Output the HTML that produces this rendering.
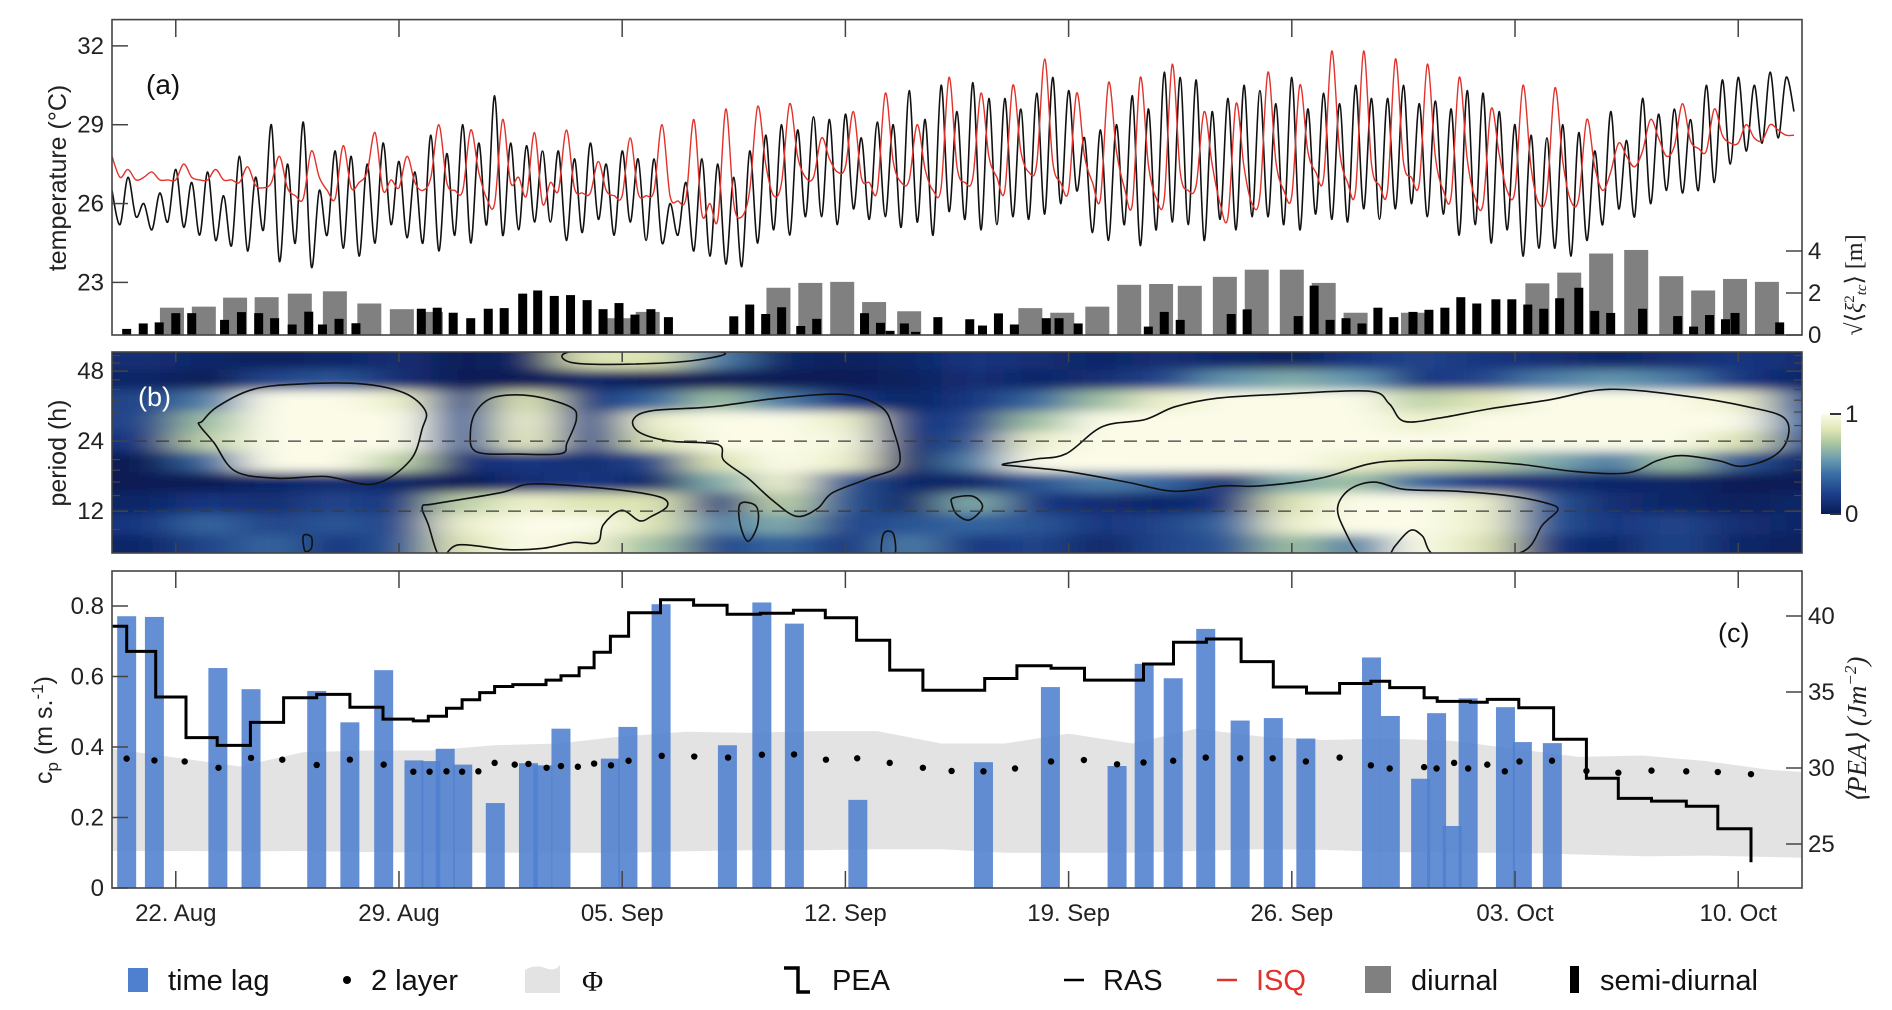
<!DOCTYPE html>
<html><head><meta charset="utf-8">
<style>
html,body{margin:0;padding:0;background:#fff;}
svg{display:block;font-family:"Liberation Sans",sans-serif;}
</style></head>
<body>
<svg id="chart" width="1892" height="1010" viewBox="0 0 1892 1010" xmlns="http://www.w3.org/2000/svg">
<defs>
<clipPath id="clipA"><rect x="112" y="20" width="1690" height="315"/></clipPath>
<clipPath id="clipB"><rect x="112" y="352" width="1690" height="201"/></clipPath>
<clipPath id="clipC"><rect x="112" y="571" width="1690" height="317"/></clipPath>
<filter id="blur" x="-10%" y="-30%" width="120%" height="160%"><feGaussianBlur stdDeviation="24 5"/></filter>
<linearGradient id="cbar" x1="0" y1="1" x2="0" y2="0">
<stop offset="0" stop-color="#081b55"/><stop offset="0.2" stop-color="#1d3f8a"/><stop offset="0.4" stop-color="#3b6ea4"/><stop offset="0.55" stop-color="#6c9db0"/><stop offset="0.7" stop-color="#a8c5a0"/><stop offset="0.85" stop-color="#e2e7b6"/><stop offset="1" stop-color="#fbfbe8"/>
</linearGradient>
</defs>
<g id="layer"></g>
</svg>
<script>
// ---------- DATA ----------
const tickDays = [2, 9, 16, 23, 30, 37, 44, 51];
const tickLabels = ["22. Aug", "29. Aug", "05. Sep", "12. Sep", "19. Sep", "26. Sep", "03. Oct", "10. Oct"];
const tempTicks = [23, 26, 29, 32];
const xiTicks = [0, 2, 4];
const periodTicks = [12, 24, 48];
const cpTicks = [0, 0.2, 0.4, 0.6, 0.8];
const cpTickLabels = ["0", "0.2", "0.4", "0.6", "0.8"];
const peaTicks = [25, 30, 35, 40];

const rasTemp = [
26.5,25.2,27.0,25.5, 26.0,25.0,26.4,25.3, 27.3,25.1,26.8,24.8, 27.2,24.6,26.3,24.4, 27.8,24.2,27.0,25.0,
29.0,23.8,27.5,24.5, 29.1,23.6,26.5,24.8, 28.0,24.3,27.8,24.0, 27.5,24.5,28.3,25.2, 27.6,24.7,27.2,24.5,
28.6,24.2,27.9,24.8, 29.0,24.5,28.3,25.2, 30.1,24.8,28.3,25.0, 28.2,25.3,28.0,25.3, 28.0,24.6,27.7,24.9,
28.3,25.4,27.5,24.8, 28.0,25.3,27.7,24.6, 27.7,24.5,26.0,24.8, 26.8,24.2,27.7,24.0, 27.5,23.7,27.0,23.6,
28.0,24.5,28.6,25.0, 29.0,24.8,28.8,25.5, 29.3,25.5,29.2,25.2, 29.4,25.8,28.5,25.4, 29.1,25.5,29.0,25.1,
30.3,25.3,29.2,24.8, 30.5,25.7,29.5,25.4, 30.6,25.0,30.0,25.2, 30.0,25.5,29.6,25.4, 30.2,25.6,30.8,26.0,
30.3,26.5,28.5,24.9, 28.8,24.6,29.0,25.2, 30.1,24.4,29.6,25.0, 31.0,25.3,30.8,25.2, 30.7,24.6,29.5,25.4,
30.0,25.0,30.5,25.5, 30.3,25.5,29.8,25.2, 30.8,25.0,29.6,25.6, 30.2,25.4,29.8,25.3, 30.5,25.8,30.0,25.4,
30.0,25.8,30.5,26.0, 29.8,25.5,29.9,25.6, 29.6,24.8,30.3,25.2, 30.2,24.5,29.5,25.0, 29.0,24.0,28.6,24.3,
28.5,24.3,29.0,24.0, 28.7,24.6,28.0,25.2, 29.5,25.8,28.4,25.5, 30.0,26.0,29.4,26.5, 29.6,26.4,29.2,26.5,
30.5,26.8,30.7,27.5, 30.8,28.0,30.5,28.3, 31.0,28.5,30.8,29.5
];
const isqTemp = [
27.8,27.0,27.3,26.9, 27.0,27.2,26.9,26.9, 26.9,27.5,27.0,26.9, 26.9,27.3,26.9,26.9, 26.8,27.4,26.7,26.6,
26.8,27.8,26.6,26.3, 26.2,28.0,27.0,26.5, 26.2,28.2,26.6,26.8, 27.2,28.7,26.5,26.9, 26.6,27.8,26.8,26.5,
27.0,29.0,26.8,26.5, 26.5,28.8,27.2,26.2, 26.0,29.2,26.8,27.0, 26.3,28.7,26.0,26.8, 26.5,28.8,26.6,26.4,
26.4,27.6,26.5,26.3, 26.3,28.5,26.4,26.3, 26.5,29.0,26.3,26.1, 26.2,29.2,25.6,26.0, 25.4,29.6,26.0,25.5,
26.5,29.7,27.5,26.3, 26.8,29.8,27.8,27.0, 27.0,28.5,27.7,27.2, 27.4,29.5,27.0,26.8, 26.5,30.2,27.6,26.8,
26.9,29.0,27.3,26.5, 26.6,30.8,27.4,26.8, 27.0,30.2,27.8,27.0, 26.5,30.5,28.0,27.2, 27.5,31.5,27.6,26.8,
26.5,30.2,27.8,26.8, 26.2,30.6,28.0,26.6, 26.0,30.8,27.5,26.2, 26.2,31.3,27.2,26.5, 26.7,29.5,27.5,26.0,
25.5,29.8,27.4,26.0, 26.3,31.0,27.6,26.5, 26.3,30.5,28.0,27.2, 27.0,31.8,28.0,26.8, 26.5,31.8,27.5,26.7,
26.5,31.5,27.6,27.0, 26.8,31.3,27.8,26.5, 26.3,30.8,27.7,26.2, 26.0,29.6,27.9,26.5, 26.5,30.5,27.4,26.0,
26.4,30.4,27.6,26.1, 26.2,29.2,27.4,26.5, 27.2,28.3,27.8,27.4, 28.0,29.2,28.5,27.8, 28.2,29.8,28.4,28.1,
28.0,29.6,28.6,28.3, 28.3,29.0,28.5,28.4, 29.0,28.8,28.6,28.6
];
const diurnalDay = [1.88,2.88,3.86,4.85,5.89,6.99,8.07,9.09,10.0,15.9,16.8,20.9,21.9,22.9,23.9,25.0,28.8,29.8,30.9,31.9,32.9,33.8,34.9,35.9,37.0,38.0,39.0,40.8,44.7,45.7,46.7,47.8,48.9,49.9,50.9,51.9];
const diurnalVal = [1.3,1.35,1.78,1.8,1.97,2.08,1.5,1.23,1.1,0.8,1.1,2.25,2.48,2.53,1.57,1.13,1.28,1.06,1.35,2.39,2.43,2.34,2.77,3.11,3.11,2.48,1.06,1.06,2.46,2.97,3.88,4.05,2.8,2.12,2.67,2.53];
const semiDay = [0.46,0.98,1.48,2.0,2.5,3.53,4.06,4.6,5.1,5.65,6.17,6.6,7.12,7.65,9.7,10.2,10.7,11.25,11.8,12.3,12.88,13.35,13.87,14.38,14.9,15.4,15.9,16.4,16.9,17.45,19.5,20.0,20.5,21.0,21.6,22.1,23.6,24.1,24.4,24.85,25.2,25.9,26.9,27.3,27.8,28.3,29.3,29.7,30.3,32.5,33.0,33.5,35.1,35.6,37.2,37.7,38.2,38.7,39.2,39.7,40.2,40.8,41.3,41.8,42.3,42.8,43.4,43.9,44.4,44.9,45.4,46.0,46.5,47.0,48.0,49.1,49.6,50.1,50.6,50.9,52.3];
const semiVal = [0.29,0.55,0.6,1.04,1.04,0.72,1.09,1.04,0.8,0.5,1.11,0.5,0.77,0.56,1.25,1.3,1.06,0.8,1.25,1.28,1.97,2.12,1.86,1.9,1.66,1.23,1.52,0.97,1.23,0.85,0.89,1.45,1.0,1.32,0.43,0.77,1.04,0.58,0.2,0.55,0.15,0.85,0.75,0.45,1.03,0.5,0.8,0.8,0.55,0.4,1.1,0.72,1.0,1.22,0.9,2.35,0.72,0.8,0.55,1.3,0.85,1.1,1.2,1.3,1.8,1.5,1.7,1.7,1.45,1.25,1.75,2.25,1.15,1.05,1.25,0.9,0.4,0.95,0.75,1.05,0.6];

const cohDays = [1,3,5,7,9,11,13,15,17,19,21,23,25,27,29,31,33,35,37,39,41,43,45,47,49,51,53];
const cohPeriods = [54,44,36,29,24,19.5,16,13,10.5,8.6];
const cohRow0 = [0.35,0.3,0.25,0.3,0.35,0.2,0.3,0.85,0.85,0.6,0.3,0.25,0.3,0.4,0.35,0.3,0.35,0.3,0.25,0.4,0.45,0.4,0.35,0.3,0.35,0.4,0.35];
const cohRow1 = [0.3,0.2,0.45,0.5,0.35,0.1,0.2,0.3,0.2,0.15,0.2,0.15,0.25,0.35,0.3,0.35,0.45,0.65,0.7,0.65,0.4,0.45,0.6,0.65,0.6,0.4,0.3];
const cohRow2 = [0.45,0.6,0.95,0.97,0.9,0.45,0.85,0.4,0.55,0.75,0.6,0.4,0.3,0.4,0.55,0.75,0.9,0.97,0.97,0.95,0.8,0.85,0.95,0.97,0.95,0.9,0.5];
const cohRow3 = [0.45,0.75,1,1,0.95,0.5,0.9,0.45,0.9,0.95,0.95,0.9,0.4,0.45,0.75,0.95,1,1,1,0.97,0.9,0.95,1,1,0.98,0.95,0.55];
const cohRow4 = [0.4,0.8,1,1,0.97,0.5,0.88,0.45,0.85,0.95,0.97,0.93,0.35,0.5,0.9,1,1,1,1,0.98,0.95,0.97,0.98,0.98,0.95,0.85,0.5];
const cohRow5 = [0.2,0.55,0.95,0.95,0.8,0.35,0.4,0.35,0.45,0.85,0.95,0.9,0.3,0.6,0.95,0.98,0.97,0.95,0.95,0.9,0.85,0.8,0.7,0.6,0.75,0.5,0.3];
const cohRow6 = [0.15,0.2,0.3,0.35,0.3,0.2,0.35,0.4,0.3,0.7,0.9,0.5,0.3,0.3,0.5,0.6,0.55,0.35,0.7,0.75,0.55,0.4,0.35,0.3,0.3,0.2,0.15];
const cohRow7 = [0.3,0.4,0.35,0.45,0.4,0.8,0.9,0.85,0.85,0.4,0.8,0.5,0.3,0.7,0.4,0.35,0.3,0.4,0.85,0.95,0.95,0.9,0.5,0.35,0.3,0.25,0.3];
const cohRow8 = [0.4,0.55,0.45,0.5,0.45,0.9,0.97,0.95,0.85,0.6,0.7,0.45,0.5,0.55,0.5,0.4,0.45,0.55,0.9,0.95,1,0.9,0.5,0.4,0.45,0.35,0.3];
const cohRow9 = [0.3,0.45,0.55,0.4,0.5,0.85,0.95,0.9,0.75,0.45,0.55,0.4,0.6,0.4,0.45,0.3,0.45,0.5,0.75,0.6,0.95,0.85,0.4,0.3,0.45,0.3,0.25];
const cohRows = [cohRow0,cohRow1,cohRow2,cohRow3,cohRow4,cohRow5,cohRow6,cohRow7,cohRow8,cohRow9];
const contourA = [[2.83,29.2],[3.3,33.7],[4.43,40.1],[5.95,42.3],[7.84,42.3],[9.16,38.7],[9.83,32.4],[9.73,27.2],[9.35,19.8],[8.22,15.7],[6.7,16.9],[5.19,16.6],[3.87,17.8],[3.2,23.6],[2.73,28.2]];
const contourB = [[11.43,32.4],[12.0,37.1],[13.14,37.6],[14.37,33.7],[14.56,29.7],[14.27,23.6],[14.08,21.2],[12.76,21.1],[11.43,21.6],[11.24,26.2]];
const contourC = [[16.35,29.7],[16.92,32.4],[18.81,33.7],[20.89,36.7],[22.97,38.1],[24.11,33.7],[24.49,27.2],[24.68,19.1],[23.73,16.6],[22.6,14.4],[22.12,12.3],[21.46,11.4],[20.7,13.4],[19.95,16.6],[19.19,19.8],[19.0,23.2],[17.49,24.0],[16.54,26.2]];
const contourD = [[14.18,57.1],[15.41,59.5],[19.1,58],[18.24,53.3],[16.16,51.4],[14.46,52.1]];
const contourE = [[9.73,12.5],[10.11,12.9],[12.19,14.4],[13.14,15.7],[15.03,15.2],[16.54,14.4],[17.3,13.6],[17.4,12.5],[16.92,11.4],[16.54,10.9],[15.98,12.1],[15.41,10.5],[15.22,8.8],[14.46,8.8],[13.51,8.3],[12.38,8.2],[10.87,8.6],[10.3,7.6],[9.92,10.5]];
const contourF = [[27.94,19.1],[28.98,20.1],[29.93,21.2],[31.06,27.7],[32.39,29.7],[33.33,33.7],[34.66,36.7],[36.55,38.1],[39.39,39.4],[40.05,34.8],[40.52,29.2],[41.66,30.2],[43.17,33.0],[45.06,36.1],[46.95,40.1],[49.41,37.4],[51.3,33.7],[52.44,30.2],[52.54,24.4],[52.07,20.5],[51.12,18.7],[50.36,19.8],[49.23,20.8],[48.47,19.8],[47.52,17.5],[45.82,17.8],[44.12,19.1],[42.23,19.8],[40.52,19.8],[39.39,19.1],[37.88,16.6],[35.98,15.4],[34.85,15.4],[33.33,14.6],[31.82,16.0],[29.93,17.8],[28.41,18.7]];
const contourG = [[39.2,7.6],[38.63,10.1],[38.44,12.5],[38.82,14.9],[39.58,16.0],[40.52,14.9],[42.23,14.6],[43.93,13.9],[45.06,12.9],[45.34,12.1],[44.87,10.5],[44.12,7.9],[41.66,7.6],[41.09,9.4],[40.71,9.9],[40.24,8.5],[39.96,7.6]];
const contourH = [[19.7,12.9],[20.2,12.6],[20.25,10.5],[19.95,8.9],[19.7,10.5]];
const contourI = [[26.4,13.7],[27.0,13.9],[27.3,12.5],[26.9,11.0],[26.5,11.6],[26.33,13]];
const contourJ = [[6.0,9.4],[6.25,9.3],[6.25,8.3],[6.05,8.1]];
const contourK = [[24.2,9.6],[24.5,9.6],[24.55,7.8],[24.15,7.8]];
const contours = [contourA,contourB,contourC,contourD,contourE,contourF,contourG,contourH,contourI,contourJ,contourK];

const lagDay = [0.46,1.33,3.32,4.36,6.42,7.46,8.52,9.47,10.0,10.45,11.0,12.02,13.06,13.51,14.08,15.63,16.18,17.22,19.3,20.38,21.4,23.39,27.33,29.43,31.52,32.37,33.28,34.3,35.38,36.42,37.44,39.5,40.09,41.04,41.54,42.03,42.53,43.7,44.23,45.17];
const lagVal = [0.771,0.769,0.624,0.564,0.559,0.47,0.618,0.362,0.36,0.395,0.35,0.241,0.354,0.348,0.452,0.367,0.457,0.805,0.405,0.81,0.75,0.25,0.357,0.57,0.346,0.636,0.595,0.735,0.475,0.482,0.424,0.654,0.488,0.31,0.496,0.176,0.538,0.513,0.414,0.411];
const layerDay = [0.46,1.33,2.28,3.34,4.36,5.34,6.42,7.46,8.52,9.45,9.96,10.49,10.98,11.49,12.0,12.63,13.06,13.63,14.08,14.61,15.12,15.65,16.2,17.24,18.26,19.32,20.38,21.39,22.39,23.37,24.39,25.43,26.33,27.33,28.32,29.45,30.48,31.52,32.35,33.28,34.3,35.38,36.4,37.44,38.5,39.48,40.07,41.15,41.54,42.09,42.53,43.13,43.68,44.14,45.16,46.24,47.24,48.28,49.37,50.36,51.4];
const layerVal = [0.367,0.362,0.359,0.341,0.369,0.364,0.349,0.364,0.35,0.33,0.33,0.331,0.33,0.331,0.355,0.35,0.352,0.341,0.346,0.344,0.353,0.348,0.361,0.375,0.373,0.37,0.378,0.379,0.364,0.368,0.355,0.341,0.332,0.331,0.339,0.359,0.363,0.351,0.356,0.361,0.37,0.368,0.368,0.359,0.37,0.348,0.339,0.343,0.339,0.355,0.339,0.35,0.331,0.359,0.361,0.332,0.327,0.333,0.331,0.329,0.323];
const phiDay = [0,2,4,6,8,10,12,14,16,18,20,22,24,26,28,30,32,34,36,38,40,42,44,46,48,50,52,53];
const phiHigh = [0.395,0.37,0.345,0.385,0.39,0.39,0.405,0.41,0.43,0.443,0.44,0.445,0.445,0.41,0.41,0.438,0.41,0.452,0.43,0.42,0.424,0.418,0.395,0.372,0.376,0.36,0.335,0.329];
const phiLow = [0.105,0.105,0.104,0.105,0.102,0.1,0.1,0.1,0.1,0.104,0.107,0.107,0.11,0.11,0.1,0.1,0.1,0.105,0.11,0.108,0.102,0.1,0.1,0.095,0.09,0.092,0.088,0.086];
const peaDay = [0,0.46,1.37,2.32,3.3,4.34,5.38,6.42,7.46,8.5,9.45,9.92,10.49,10.98,11.53,12.0,12.57,13.61,14.08,14.65,15.12,15.63,16.2,17.2,18.24,19.29,20.33,21.37,22.37,23.35,24.39,25.43,27.37,28.38,29.45,30.5,32.35,33.29,34.32,35.41,36.42,37.46,38.5,39.48,40.07,41.15,41.56,42.6,43.13,44.12,45.21,46.24,47.24,48.28,49.37,50.36];
const peaVal = [39.33,37.67,34.67,32.0,31.49,33.0,34.62,34.84,34.0,33.22,33.1,33.4,33.93,34.49,34.96,35.36,35.49,35.78,36.07,36.6,37.62,38.67,40.22,41.07,40.71,40.11,40.18,40.38,39.89,38.4,36.44,35.11,35.89,36.73,36.56,35.78,36.84,38.27,38.49,37.0,35.33,34.93,35.56,35.71,35.29,34.62,34.38,34.33,34.51,33.96,31.89,29.33,28.0,27.82,27.49,26.0];
const peaEndDay = 51.4;
const peaEndVal = 23.8;

// ---------- SCALES ----------
const L = 112, R = 1802, NDAYS = 53;
const X = d => L + d * (R - L) / NDAYS;
const yT = v => 19.6 + (33 - v) * 26.28;
const yXi = v => 335 - v * 21;
const yP = p => 352 + 70 * Math.log2(58 / p);
const yC = v => 888 - v * 352.5;
const yPEA = v => 616 + (40 - v) * 15.2;

const NS = "http://www.w3.org/2000/svg";
const root = document.getElementById("layer");
function mk(tag, attrs, parent) {
  const el = document.createElementNS(NS, tag);
  for (const k in attrs) el.setAttribute(k, attrs[k]);
  (parent || root).appendChild(el);
  return el;
}
function smoothPath(pts, closed) {
  const n = pts.length;
  let d = `M${pts[0][0].toFixed(1)},${pts[0][1].toFixed(1)}`;
  const last = closed ? n : n - 1;
  for (let i = 0; i < last; i++) {
    const g = j => closed ? pts[(j + n) % n] : pts[Math.max(0, Math.min(n - 1, j))];
    const p0 = g(i - 1), p1 = g(i), p2 = g(i + 1), p3 = g(i + 2);
    const c1 = [p1[0] + (p2[0] - p0[0]) / 6, p1[1] + (p2[1] - p0[1]) / 6];
    const c2 = [p2[0] - (p3[0] - p1[0]) / 6, p2[1] - (p3[1] - p1[1]) / 6];
    d += ` C${c1[0].toFixed(1)},${c1[1].toFixed(1)} ${c2[0].toFixed(1)},${c2[1].toFixed(1)} ${p2[0].toFixed(1)},${p2[1].toFixed(1)}`;
  }
  return d + (closed ? "Z" : "");
}
function txt(s, x, y, attrs) {
  const t = mk("text", Object.assign({ x: x, y: y, "font-size": 24, fill: "#222" }, attrs || {}));
  t.textContent = s;
  return t;
}
const stops = [[0,[8,27,85]],[0.2,[25,55,130]],[0.4,[55,105,160]],[0.55,[108,157,176]],[0.7,[168,197,160]],[0.85,[226,231,182]],[1,[251,251,232]]];
function cmap(v) {
  v = Math.max(0, Math.min(1, (v - 0.2) / 0.75));
  v = Math.pow(v, 1.25);
  for (let i = 1; i < stops.length; i++) {
    if (v <= stops[i][0]) {
      const a = stops[i-1], b = stops[i], f = (v - a[0]) / (b[0] - a[0]);
      const c = a[1].map((x, k) => Math.round(x + (b[1][k] - x) * f));
      return `rgb(${c[0]},${c[1]},${c[2]})`;
    }
  }
  return "rgb(251,251,232)";
}

// ---------- PANEL A ----------
const gA = mk("g", {});


const gAc = mk("g", { "clip-path": "url(#clipA)" }, gA);
diurnalDay.forEach((d, i) => {
  const r = mk("rect", { x: X(d) - 12, y: yXi(diurnalVal[i]), width: 24, height: yXi(0) - yXi(diurnalVal[i]), fill: "#808080" }, gAc);
  
  
});
semiDay.forEach((d, i) => {
  const r = mk("rect", { x: X(d) - 4.5, y: yXi(semiVal[i]), width: 9, height: yXi(0) - yXi(semiVal[i]), fill: "#000" }, gAc);
  
  
});
const rasLine = mk("path", { d: smoothPath(rasTemp.map((v, i) => [X(i * 0.25), yT(v)]), false), fill: "none", stroke: "#111", "stroke-width": 1.6 }, gAc);


const isqLine = mk("path", { d: smoothPath(isqTemp.map((v, i) => [X(i * 0.25), yT(v)]), false), fill: "none", stroke: "#e3322b", "stroke-width": 1.4 }, gAc);


const frA = mk("rect", { x: L, y: 19.6, width: R - L, height: 335 - 19.6, fill: "none", stroke: "#444", "stroke-width": 1.6 }, gA);


tempTicks.forEach(v => {
  mk("line", { x1: L, x2: L + 16, y1: yT(v), y2: yT(v), stroke: "#444", "stroke-width": 1.5 }, gA);
  const t = txt(String(v), L - 8, yT(v) + 8, { "text-anchor": "end" });
  
  
});
xiTicks.forEach(v => {
  mk("line", { x1: R - 16, x2: R, y1: yXi(v), y2: yXi(v), stroke: "#444", "stroke-width": 1.5 }, gA);
  const t = txt(String(v), R + 6, yXi(v) + 8, {});
  
  
});
tickDays.forEach(d => mk("line", { x1: X(d), x2: X(d), y1: 19.6, y2: 37, stroke: "#444", "stroke-width": 1.5 }, gA));

// ---------- PANEL B ----------
const gB = mk("g", {});


const gBc = mk("g", { "clip-path": "url(#clipB)" }, gB);
mk("rect", { x: L, y: 352, width: R - L, height: 201, fill: "#1d3f8a" }, gBc);
const gBl = mk("g", { filter: "url(#blur)" }, gBc);
const rowY = cohPeriods.map(p => yP(p));
cohRows.forEach((row, ri) => {
  const top = ri === 0 ? 320 : (rowY[ri - 1] + rowY[ri]) / 2;
  const bot = ri === cohRows.length - 1 ? 590 : (rowY[ri] + rowY[ri + 1]) / 2;
  row.forEach((v, ci) => {
    const x0 = ci === 0 ? L - 60 : X(cohDays[ci] - 1);
    const x1 = ci === row.length - 1 ? R + 60 : X(cohDays[ci] + 1);
    const c = mk("rect", { x: x0, y: top, width: x1 - x0 + 0.5, height: bot - top + 0.5, fill: cmap(v) }, gBl);
    
    
  });
});
contours.forEach(ct => {
  const p = mk("path", { d: smoothPath(ct.map(q => [X(q[0]), yP(q[1])]), true), fill: "none", stroke: "#111", "stroke-width": 1.6 }, gBc);
  
  
});
[24, 12].forEach(p => {
  const l = mk("line", { x1: L, x2: R, y1: yP(p), y2: yP(p), stroke: "#3a3a3a", "stroke-width": 1.3, "stroke-dasharray": "13 9" }, gBc);
  
  
});
const frB = mk("rect", { x: L, y: 352, width: R - L, height: 201, fill: "none", stroke: "#444", "stroke-width": 1.6 }, gB);


periodTicks.forEach(p => {
  mk("line", { x1: L, x2: L + 16, y1: yP(p), y2: yP(p), stroke: "#444", "stroke-width": 1.5 }, gB);
  mk("line", { x1: R - 16, x2: R, y1: yP(p), y2: yP(p), stroke: "#444", "stroke-width": 1.5 }, gB);
  const t = txt(String(p), L - 8, yP(p) + 8, { "text-anchor": "end" });
  
  
});
[10, 14, 16, 18, 20, 28, 32, 36, 40, 44, 52, 56].forEach(p => {
  mk("line", { x1: L, x2: L + 8, y1: yP(p), y2: yP(p), stroke: "#444", "stroke-width": 1.2 }, gB);
  mk("line", { x1: R - 8, x2: R, y1: yP(p), y2: yP(p), stroke: "#444", "stroke-width": 1.2 }, gB);
});
tickDays.forEach(d => {
  mk("line", { x1: X(d), x2: X(d), y1: 352, y2: 362, stroke: "#444", "stroke-width": 1.5 }, gB);
  mk("line", { x1: X(d), x2: X(d), y1: 543, y2: 553, stroke: "#444", "stroke-width": 1.5 }, gB);
});
const cb = mk("rect", { x: 1821, y: 414, width: 20, height: 100, fill: "url(#cbar)" }, gB);


mk("line", { x1: 1830, x2: 1841, y1: 414, y2: 414, stroke: "#333", "stroke-width": 2 }, gB);
mk("line", { x1: 1830, x2: 1841, y1: 514, y2: 514, stroke: "#333", "stroke-width": 2 }, gB);
const cb1 = txt("1", 1845, 422, {});  
const cb0 = txt("0", 1845, 522, {});  

// ---------- PANEL C ----------
const gC = mk("g", {});


const gCc = mk("g", { "clip-path": "url(#clipC)" }, gC);
const phiPts = phiDay.map((d, i) => [X(d), yC(phiHigh[i])]).concat(phiDay.map((d, i) => [X(d), yC(phiLow[i])]).reverse());
const phi = mk("path", { d: "M" + phiPts.map(p => p[0].toFixed(1) + "," + p[1].toFixed(1)).join(" L") + "Z", fill: "#e3e3e3" }, gCc);


lagDay.forEach((d, i) => {
  const r = mk("rect", { x: X(d) - 9.5, y: yC(lagVal[i]), width: 19, height: yC(0) - yC(lagVal[i]), fill: "#4f7fcf", "fill-opacity": 0.88 }, gCc);
  
  
});
let pd = `M${X(peaDay[0])},${yPEA(peaVal[0])}`;
peaDay.forEach((d, i) => {
  const nx = i < peaDay.length - 1 ? peaDay[i + 1] : peaEndDay;
  pd += ` L${X(d).toFixed(1)},${yPEA(peaVal[i]).toFixed(1)} L${X(nx).toFixed(1)},${yPEA(peaVal[i]).toFixed(1)}`;
});
pd += ` L${X(peaEndDay).toFixed(1)},${yPEA(peaEndVal).toFixed(1)}`;
const pea = mk("path", { d: pd, fill: "none", stroke: "#000", "stroke-width": 3 }, gCc);


layerDay.forEach((d, i) => {
  const c = mk("circle", { cx: X(d), cy: yC(layerVal[i]), r: 3.2, fill: "#000" }, gCc);
  
  
});
const frC = mk("rect", { x: L, y: 571, width: R - L, height: 317, fill: "none", stroke: "#444", "stroke-width": 1.6 }, gC);


cpTicks.forEach((v, i) => {
  mk("line", { x1: L, x2: L + 16, y1: yC(v), y2: yC(v), stroke: "#444", "stroke-width": 1.5 }, gC);
  const t = txt(cpTickLabels[i], L - 8, yC(v) + 8, { "text-anchor": "end" });
  
  
});
peaTicks.forEach(v => {
  mk("line", { x1: R - 16, x2: R, y1: yPEA(v), y2: yPEA(v), stroke: "#444", "stroke-width": 1.5 }, gC);
  const t = txt(String(v), R + 6, yPEA(v) + 8, {});
  
  
});
tickDays.forEach((d, i) => {
  mk("line", { x1: X(d), x2: X(d), y1: 571, y2: 588, stroke: "#444", "stroke-width": 1.5 }, gC);
  mk("line", { x1: X(d), x2: X(d), y1: 871, y2: 888, stroke: "#444", "stroke-width": 1.5 }, gC);
  const t = txt(tickLabels[i], X(d), 921, { "text-anchor": "middle" });
  
  
});
</script>

<svg width="1892" height="1010" viewBox="0 0 1892 1010" style="position:absolute;left:0;top:0;font-family:'Liberation Sans',sans-serif">
<text x="146" y="94" font-size="28" fill="#111">(a)</text>
<text x="138" y="406" font-size="27" fill="#fff">(b)</text>
<text x="1718" y="642" font-size="27" fill="#111">(c)</text>
<text transform="translate(66,178) rotate(-90)" text-anchor="middle" font-size="25" fill="#222">temperature (°C)</text>
<text transform="translate(66,453) rotate(-90)" text-anchor="middle" font-size="25" fill="#222">period (h)</text>
<text transform="translate(52,730) rotate(-90)" text-anchor="middle" font-size="25" fill="#222">c<tspan font-size="17" dy="6">p</tspan><tspan dy="-6">  (m s.</tspan><tspan font-size="17" dy="-9">-1</tspan><tspan dy="9">)</tspan></text>
<text transform="translate(1862,285) rotate(-90)" text-anchor="middle" font-size="24" fill="#222" font-family="Liberation Serif, serif">√⟨<tspan font-style="italic">ξ</tspan><tspan font-size="15" dy="-8">2</tspan><tspan font-size="15" dy="12" font-style="italic">tc</tspan><tspan dy="-4">⟩  [m]</tspan></text>
<text transform="translate(1866,730) rotate(-90)" text-anchor="middle" font-size="27" fill="#222" font-family="Liberation Serif, serif" font-style="italic">⟨PEA⟩ (Jm<tspan font-size="17" dy="-10">−2</tspan><tspan dy="10">)</tspan></text>
<g font-size="29" fill="#111">
  <rect x="128" y="968" width="20" height="24" fill="#4f7fcf"/>
  <text x="168" y="990">time lag</text>
  <circle cx="347" cy="980" r="4" fill="#000"/>
  <text x="371" y="990">2 layer</text>
  <path d="M525,970 Q535,964 545,968 T560,965 L560,993 L525,993 Z" fill="#e3e3e3"/>
  <text x="582" y="991" font-family="Liberation Serif, serif">Φ</text>
  <path d="M784,968 L798,968 L798,992 L810,992" fill="none" stroke="#000" stroke-width="3.5"/>
  <text x="832" y="990">PEA</text>
  <line x1="1064" y1="980" x2="1084" y2="980" stroke="#000" stroke-width="2.5"/>
  <text x="1103" y="990">RAS</text>
  <line x1="1217" y1="980" x2="1237" y2="980" stroke="#e3322b" stroke-width="2.5"/>
  <text x="1256" y="990" fill="#e3322b">ISQ</text>
  <rect x="1365" y="966" width="26" height="27" fill="#808080"/>
  <text x="1411" y="990">diurnal</text>
  <rect x="1570" y="966" width="9" height="27" fill="#000"/>
  <text x="1600" y="990">semi-diurnal</text>
</g>
</svg>
</body></html>
